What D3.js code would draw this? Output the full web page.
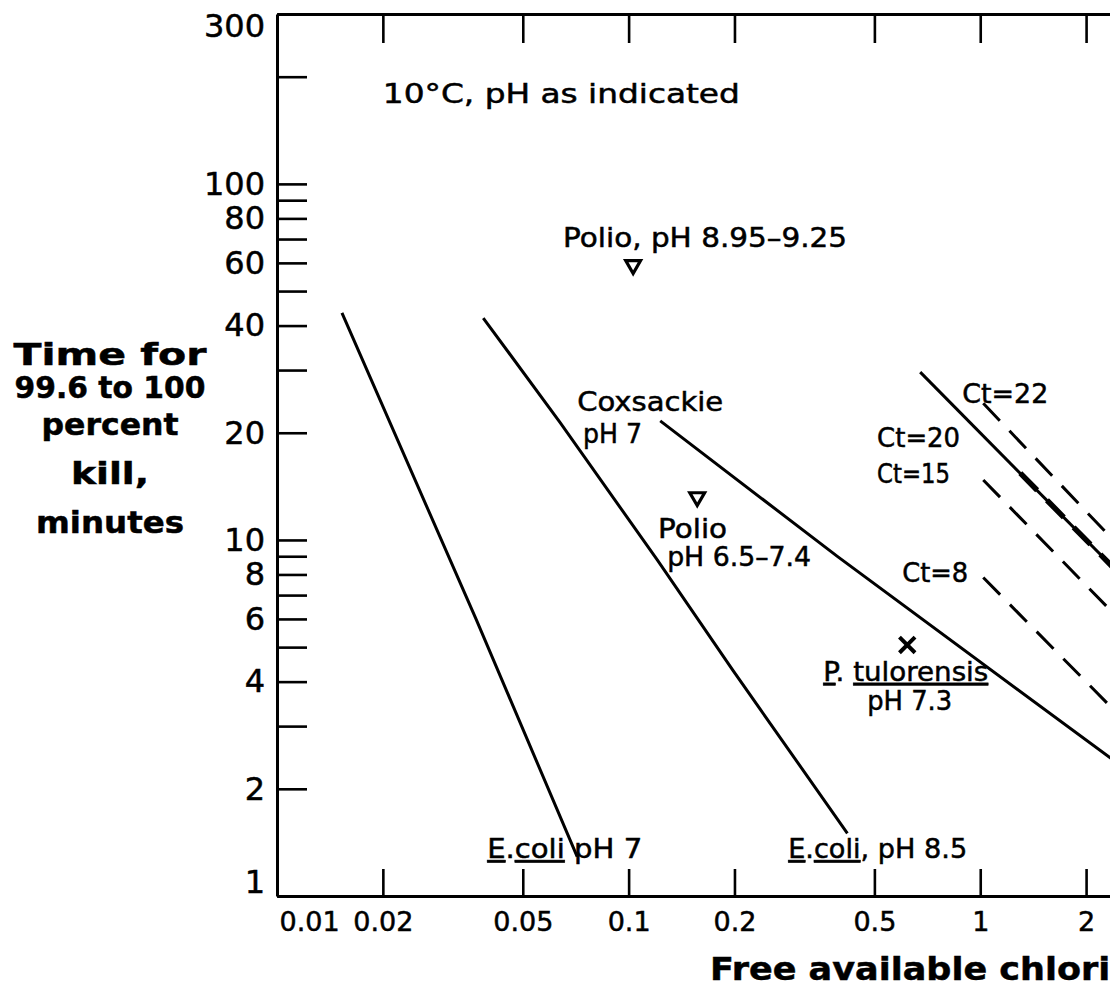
<!DOCTYPE html>
<html lang="en">
<head>
<meta charset="UTF-8">
<title>Time for 99.6 to 100 percent kill vs free available chlorine</title>
<script src="https://cdn.jsdelivr.net/npm/d3@7"></script>
<style>
  body { margin: 0; background: #fff; }
  svg text { font-family: "DejaVu Sans", sans-serif; fill: #000; stroke: #000; stroke-width: 0.5px; }
  .axis path { stroke: #000; stroke-width: 3; fill: none; }
  .axis line { stroke: #000; stroke-width: 2.6; }
  .curve { fill: none; stroke: #000; stroke-width: 3; }
  .ct { stroke-dasharray: 24 14; }
  .u { text-decoration: underline; }
</style>
</head>
<body>
<svg id="chart" width="1110" height="996"></svg>
<script>
// axis ticks
var xTicks = [0.01, 0.02, 0.05, 0.1, 0.2, 0.5, 1, 2];
var xTickLabels = ["0.01", "0.02", "0.05", "0.1", "0.2", "0.5", "1", "2"];
var yTicks = [1, 2, 3, 4, 5, 6, 7, 8, 9, 10, 20, 30, 40, 50, 60, 70, 80, 90, 100, 200, 300];
var yTickLabels = [1, 2, 4, 6, 8, 10, 20, 40, 60, 80, 100, 300];

// [free chlorine mg/l, minutes]
var ecoliPH7 = [[0.0153, 43.4], [0.0368, 6.0], [0.0714, 1.29]];
var ecoliPH85 = [[0.0386, 42.0], [0.0638, 21.4], [0.1205, 8.8], [0.198, 4.3], [0.419, 1.5]];
var coxsackiePH7 = [[0.123, 21.6], [0.394, 8.96], [2.4, 2.40]];
var ct20Solid = [[0.675, 29.6], [2.4, 8.33]];
var ct22 = [[1.02, 24.2], [2.4, 9.95]];
var ct20 = [[1.30, 15.4], [2.4, 8.33]];
var ct15 = [[1.02, 14.74], [2.4, 6.2]];
var ct8 = [[1.02, 7.84], [2.4, 3.33]];
var polioPoints = [[0.103, 59.2], [0.1567, 13.2]];
var tularensisPoints = [[0.62, 5.07]];

// labels placed in data space; w = drawn width
var notes = [
  {parts: [["10°C, pH as indicated"]], at: [0.02, 169], w: 357},
  {parts: [["Polio, pH 8.95–9.25"]], at: [0.0651, 66.5], w: 284},
  {parts: [["Coxsackie"]], at: [0.0714, 23.0], w: 146},
  {parts: [["pH 7"]], at: [0.0742, 18.7], w: 59},
  {parts: [["Polio"]], at: [0.1213, 10.1], w: 69},
  {parts: [["pH 6.5–7.4"]], at: [0.1287, 8.45], w: 144},
  {parts: [["Ct=22"]], at: [0.889, 24.3], w: 86},
  {parts: [["Ct=20"]], at: [0.509, 18.25], w: 83},
  {parts: [["Ct=15"]], at: [0.509, 14.46], w: 73},
  {parts: [["Ct=8"]], at: [0.600, 7.62], w: 66},
  {parts: [["P", 1], [". "], ["tulorensis", 1]], at: [0.3576, 4.02], w: 165},
  {parts: [["pH 7.3"]], at: [0.477, 3.34], w: 85},
  {parts: [["E", 1], ["."], ["coli", 1], [" pH 7"]], at: [0.0396, 1.278], w: 155},
  {parts: [["E", 1], ["."], ["coli", 1], [", pH 8.5"]], at: [0.2843, 1.278], w: 179}
];

var yTitle = ["Time for", "99.6 to 100", "percent", "kill,", "minutes"];
var yTitleBase = [365, 398, 435, 484, 533];
var yTitleWidth = [193, 191, 137, 78, 148];

var svg = d3.select("#chart");
var x = d3.scaleLog().domain([0.01, 3]).range([277, 1148]);
var y = d3.scaleLog().domain([1, 300]).range([896, 14]);

function styleAxis(g, size) {
  g.attr("font-size", null).attr("font-family", null);
  g.selectAll(".tick text").style("font-size", size + "px");
}

// bottom axis
svg.append("g").attr("class", "axis")
    .attr("transform", "translate(0," + y(1) + ")")
    .call(d3.axisBottom(x).tickValues(xTicks)
        .tickFormat(function(d, i) { return xTickLabels[i]; })
        .tickSize(-27).tickSizeOuter(0).tickPadding(16))
    .call(function(g) {
      styleAxis(g, 27);
      g.selectAll(".tick").filter(function(d) { return d === 0.01; })
        .select("text").attr("text-anchor", "start").attr("x", 2);
    });

// top axis
svg.append("g").attr("class", "axis")
    .attr("transform", "translate(0," + y(300) + ")")
    .call(d3.axisTop(x).tickValues(xTicks.slice(1)).tickFormat("")
        .tickSize(-29).tickSizeOuter(0));

// left axis
svg.append("g").attr("class", "axis")
    .attr("transform", "translate(" + x(0.01) + ",0)")
    .call(d3.axisLeft(y).tickValues(yTicks)
        .tickFormat(function(d) { return yTickLabels.indexOf(d) >= 0 ? d : ""; })
        .tickSize(-30).tickSizeOuter(0).tickPadding(12))
    .call(function(g) {
      styleAxis(g, 32);
      g.selectAll(".tick text").attr("dy", function(d) {
        if (d === 1) return "-0.12em";
        if (d === 300) return "0.7em";
        return "0.32em";
      });
    });

// curves
var line = d3.line().x(function(d) { return x(d[0]); }).y(function(d) { return y(d[1]); });

[ecoliPH7, ecoliPH85, coxsackiePH7, ct20Solid].forEach(function(s) {
  svg.append("path").datum(s).attr("class", "curve").attr("d", line);
});
[ct22, ct15, ct8].forEach(function(s) {
  svg.append("path").datum(s).attr("class", "curve ct").attr("d", line);
});
svg.append("path").datum(ct20).attr("class", "curve ct")
    .style("stroke-width", "5.5px").attr("d", line);

// points
svg.selectAll(".polio").data(polioPoints).enter().append("path")
    .attr("class", "polio")
    .attr("d", d3.symbol(d3.symbolTriangle, 95))
    .attr("transform", function(d) { return "translate(" + x(d[0]) + "," + y(d[1]) + ") rotate(180)"; })
    .attr("fill", "#fff").attr("stroke", "#000").attr("stroke-width", 3.2);

svg.selectAll(".tul").data(tularensisPoints).enter().append("path")
    .attr("class", "tul")
    .attr("d", d3.symbol(d3.symbolTimes, 160))
    .attr("transform", function(d) { return "translate(" + x(d[0]) + "," + y(d[1]) + ")"; })
    .attr("fill", "none").attr("stroke", "#000").attr("stroke-width", 4);

// annotations
notes.forEach(function(n) {
  var t = svg.append("text")
      .attr("x", x(n.at[0])).attr("y", y(n.at[1]))
      .attr("font-size", 26)
      .attr("textLength", n.w).attr("lengthAdjust", "spacingAndGlyphs");
  n.parts.forEach(function(p) {
    t.append("tspan").attr("class", p[1] ? "u" : null).text(p[0]);
  });
});

// axis titles
yTitle.forEach(function(s, i) {
  svg.append("text")
      .attr("x", 110).attr("y", yTitleBase[i])
      .attr("text-anchor", "middle")
      .attr("font-size", 31).attr("font-weight", "bold")
      .attr("textLength", yTitleWidth[i]).attr("lengthAdjust", "spacingAndGlyphs")
      .text(s);
});

svg.append("text")
    .attr("x", 710).attr("y", 980)
    .attr("font-size", 32).attr("font-weight", "bold")
    .attr("textLength", 449).attr("lengthAdjust", "spacingAndGlyphs")
    .text("Free available chlorine");
</script>
</body>
</html>
